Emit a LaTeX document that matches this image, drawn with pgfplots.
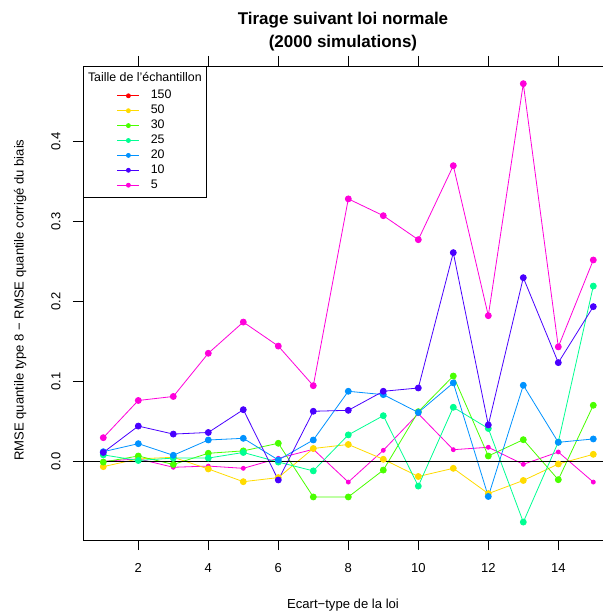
\documentclass[border=0pt]{standalone}
\usepackage{pgfplots}
\pgfplotsset{compat=1.18}
\usepackage{fontspec}
\setmainfont{Liberation Sans}
\definecolor{c150}{HTML}{FF0000}
\definecolor{c50}{HTML}{FFDB00}
\definecolor{c30}{HTML}{49FF00}
\definecolor{c25}{HTML}{00FF92}
\definecolor{c20}{HTML}{0092FF}
\definecolor{c10}{HTML}{4900FF}
\definecolor{c5}{HTML}{FF00DB}
\begin{document}
\begin{tikzpicture}
\useasboundingbox (0,0) rectangle (603pt,614pt);
\begin{axis}[
  at={(83pt,74pt)}, anchor=south west,
  width=520pt, height=474pt, scale only axis,
  xmin=0.42, xmax=15.277, ymin=-0.0984, ymax=0.4941,
  xtick={2,4,...,14}, ytick={0,0.1,0.2,0.3,0.4},
  yticklabels={0.0,0.1,0.2,0.3,0.4},
  tick align=outside, tick style={black, line width=0.8pt}, major tick length=10pt,
  axis line style={black, line width=0.8pt},
  /pgf/number format/assume math mode=true,
  tick label style={font=\fontsize{13}{15}\selectfont},
  xticklabel style={anchor=center, yshift=-18pt},
  yticklabel style={rotate=90, anchor=center, yshift=17pt},
  xlabel={Ecart−type de la loi},
  ylabel={RMSE quantile type 8 − RMSE quantile corrigé du biais},
  label style={font=\fontsize{13.1}{15}\selectfont},
  xlabel style={at={(axis description cs:0.5,-0.137)}, anchor=center},
  ylabel style={at={(axis description cs:-0.121,0.506)}, anchor=center, rotate=0},
  every axis plot/.append style={line width=0.8pt, mark=*},
  legend style={at={(axis description cs:0.065,0.946)}, anchor=north west,
    draw=none, fill=none, font=\fontsize{12.4}{14}\selectfont,
    row sep=6.9pt, inner sep=0pt,
    nodes={inner sep=0pt, text height=7pt, text depth=1pt}},
  legend cell align=left,
  legend image code/.code={\draw[mark repeat=2,mark phase=2,#1] plot coordinates {(0pt,0pt) (11pt,0pt) (22pt,0pt)};},
  clip=true,
]
\addlegendimage{c150, mark size=2pt}\addlegendentry{\hspace{11pt}150}
\addlegendimage{c50, mark size=2pt}\addlegendentry{\hspace{11pt}50}
\addlegendimage{c30, mark size=2pt}\addlegendentry{\hspace{11pt}30}
\addlegendimage{c25, mark size=2pt}\addlegendentry{\hspace{11pt}25}
\addlegendimage{c20, mark size=2pt}\addlegendentry{\hspace{11pt}20}
\addlegendimage{c10, mark size=2pt}\addlegendentry{\hspace{11pt}10}
\addlegendimage{c5, mark size=2pt}\addlegendentry{\hspace{11pt}5}

\addplot[forget plot, c5, mark size=2pt] coordinates {
(1,0.0) (2,0.003) (3,-0.0075) (4,-0.006) (5,-0.0088) (6,0.0037) (7,0.015) (8,-0.026)
(9,0.0137) (10,0.0595) (11,0.0145) (12,0.0175) (13,-0.0038) (14,0.0116) (15,-0.026)};
\addplot[forget plot, c50, mark size=3pt] coordinates {
(1,-0.0067) (2,0.003) (3,0.005) (4,-0.0096) (5,-0.0255) (6,-0.0204) (7,0.016) (8,0.021)
(9,0.0025) (10,-0.019) (11,-0.0088) (12,-0.0404) (13,-0.024) (14,-0.0034) (15,0.0087)};
\addplot[forget plot, c30, mark size=3pt] coordinates {
(1,-0.001) (2,0.0066) (3,-0.004) (4,0.010) (5,0.013) (6,0.0225) (7,-0.0446) (8,-0.0446)
(9,-0.011) (10,0.062) (11,0.1066) (12,0.0066) (13,0.027) (14,-0.023) (15,0.070)};
\addplot[forget plot, c25, mark size=3pt] coordinates {
(1,0.008) (2,0.001) (3,0.004) (4,0.004) (5,0.011) (6,-0.001) (7,-0.012) (8,0.033)
(9,0.057) (10,-0.031) (11,0.0675) (12,0.041) (13,-0.076) (14,0.024) (15,0.219)};
\addplot[forget plot, c20, mark size=3pt] coordinates {
(1,0.012) (2,0.022) (3,0.0075) (4,0.0266) (5,0.0287) (6,0.0016) (7,0.0266) (8,0.0875)
(9,0.0833) (10,0.061) (11,0.098) (12,-0.044) (13,0.095) (14,0.0237) (15,0.0279)};
\addplot[forget plot, c10, mark size=3pt] coordinates {
(1,0.011) (2,0.044) (3,0.034) (4,0.036) (5,0.0645) (6,-0.0234) (7,0.0625) (8,0.0637)
(9,0.0875) (10,0.0916) (11,0.2608) (12,0.0454) (13,0.2295) (14,0.1233) (15,0.1933)};
\addplot[forget plot, c5, mark size=3pt] coordinates {
(1,0.0295) (2,0.076) (3,0.081) (4,0.135) (5,0.174) (6,0.144) (7,0.0945) (8,0.328)
(9,0.307) (10,0.277) (11,0.3695) (12,0.182) (13,0.472) (14,0.143) (15,0.2516)};
\addplot[forget plot, black, mark=none, line width=0.8pt] coordinates {(0.42,0) (15.277,0)};

\draw[black, line width=0.8pt] (axis description cs:0,1) rectangle (axis description cs:0.238,0.723);
\node[font=\fontsize{12.4}{14}\selectfont, anchor=center] at (axis description cs:0.119,0.977) {Taille de l'échantillon};
\end{axis}
\node[font=\bfseries\fontsize{17}{20}\selectfont] at (343pt,594pt) {Tirage suivant loi normale};
\node[font=\bfseries\fontsize{17}{20}\selectfont] at (343pt,571pt) {(2000 simulations)};
\end{tikzpicture}
\end{document}
